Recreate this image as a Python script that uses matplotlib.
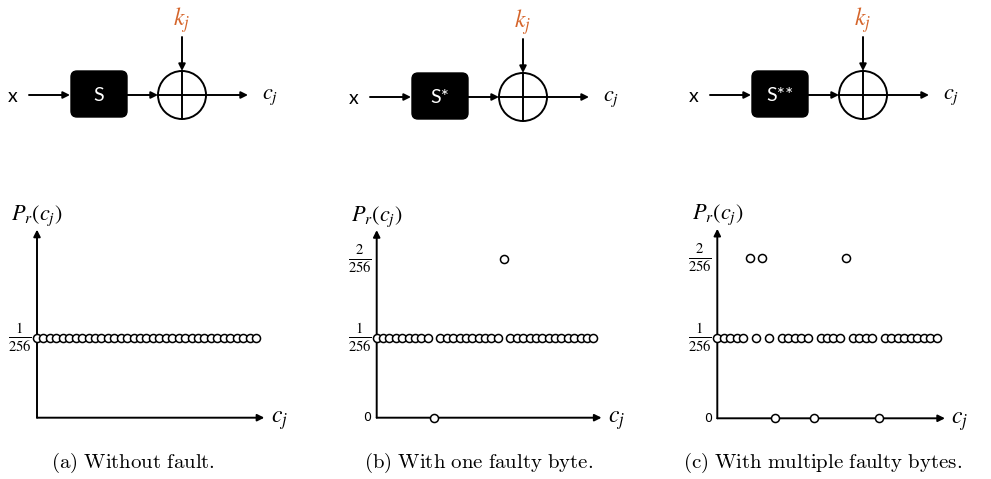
import matplotlib
matplotlib.use("Agg")
import matplotlib.pyplot as plt
from matplotlib.patches import FancyBboxPatch, Circle

plt.rcParams['mathtext.fontset'] = 'stix'

W, H = 991, 479

# position of each c_j value along the axis
positions = list(range(35))

# probabilities, in units of 1/256
vals_a = [1, 1, 1, 1, 1, 1, 1, 1, 1, 1, 1, 1, 1, 1, 1, 1, 1, 1,
          1, 1, 1, 1, 1, 1, 1, 1, 1, 1, 1, 1, 1, 1, 1, 1, 1]
vals_b = [1, 1, 1, 1, 1, 1, 1, 1, 1, 0, 1, 1, 1, 1, 1, 1, 1, 1,
          1, 1, 2, 1, 1, 1, 1, 1, 1, 1, 1, 1, 1, 1, 1, 1, 1]
vals_c = [1, 1, 1, 1, 1, 2, 1, 2, 1, 0, 1, 1, 1, 1, 1, 0, 1, 1,
          1, 1, 2, 1, 1, 1, 1, 0, 1, 1, 1, 1, 1, 1, 1, 1, 1]

ticks_a = [1]
ticks_bc = [0, 1, 2]
tick_labels = {0: "0", 1: r"$\frac{1}{256}$", 2: r"$\frac{2}{256}$"}

box_labels = ["S", "S*", "S**"]
captions = ["(a) Without fault.", "(b) With one faulty byte.",
            "(c) With multiple faulty bytes."]

fig = plt.figure(figsize=(W / 100, H / 100), dpi=100)

# overlay for the block diagrams, in pixel units
bg = fig.add_axes([0, 0, 1, 1])
bg.set_xlim(0, W)
bg.set_ylim(H, 0)
bg.axis("off")

orange = "#D5652B"
arrow = dict(arrowstyle="-|>", lw=1.4, color="black", mutation_scale=10,
             shrinkA=0, shrinkB=0)


def diagramme(dx, dy, label):
    yc = 95 + dy
    bg.text(13 + dx, yc + 1, "x", fontsize=14, family="Lato", ha="center", va="center")
    bg.annotate("", xy=(70 + dx, yc), xytext=(29 + dx, yc), arrowprops=arrow)
    bg.add_patch(FancyBboxPatch((71 + dx, 71 + dy), 56, 46,
                                boxstyle="round,pad=0,rounding_size=6",
                                fc="black", ec="black", lw=1))
    bg.text(99 + dx, yc, label, color="white", fontsize=14, family="Lato",
            ha="center", va="center")
    cx = 182 + dx
    r = 24
    bg.annotate("", xy=(cx - r, yc), xytext=(126 + dx, yc), arrowprops=arrow)
    bg.add_patch(Circle((cx, yc), r, fc="white", ec="black", lw=1.4))
    bg.plot([cx - r, cx + r], [yc, yc], color="black", lw=1.4)
    bg.plot([cx, cx], [yc - r, yc + r], color="black", lw=1.4)
    bg.annotate("", xy=(cx + 66, yc), xytext=(cx + r, yc), arrowprops=arrow)
    bg.annotate("", xy=(cx, yc - r), xytext=(cx, 37 + dy), arrowprops=arrow)
    bg.text(cx, 20 + dy, r"$k_j$", color=orange, fontsize=17, ha="center", va="center")
    bg.text(cx + 80, yc + 2, r"$c_j$", fontsize=16, ha="left", va="center")


diagramme(0, 0, box_labels[0])
diagramme(341, 2, box_labels[1])
diagramme(681, 0, box_labels[2])

xmin, xmax, ymin, ymax = -4, 41, -0.4, 2.8


def panneau(x0, y0, dx, dy, valeurs, ticks):
    left = (x0 + xmin * dx) / W
    width = (xmax - xmin) * dx / W
    bottom = (H - (y0 - ymin * dy)) / H
    height = (ymax - ymin) * dy / H
    ax = fig.add_axes([left, bottom, width, height])
    ax.set_xlim(xmin, xmax)
    ax.set_ylim(ymin, ymax)
    ax.axis("off")
    ax.annotate("", xy=(35.3, 0), xytext=(0, 0), arrowprops=arrow)
    ax.annotate("", xy=(0, 2.36), xytext=(0, 0), arrowprops=arrow)
    ax.plot(positions, valeurs, "o", ls="none", mfc="white", mec="black",
            ms=5.8, mew=1.1, clip_on=False, zorder=3)
    for t in ticks:
        ax.text(-0.8, t, tick_labels[t], fontsize=15 if t else 9,
                ha="right", va="center")
    ax.text(0, 2.53, r"$P_r(c_j)$", fontsize=16, ha="center", va="center")
    ax.text(36.3, -0.03, r"$c_j$", fontsize=17, ha="left", va="center")
    return ax


panneau(37, 417.7, 6.44, 79.7, vals_a, ticks_a)
panneau(376.7, 417.7, 6.37, 79.5, vals_b, ticks_bc)
panneau(717.3, 418.3, 6.45, 80.3, vals_c, ticks_bc)

for cx, txt in zip([133, 479, 823], captions):
    bg.text(cx, 463, r"$\mathrm{" + txt.replace(" ", r"\ ") + "}$",
            math_fontfamily="cm", fontsize=15, ha="center", va="center")

fig.savefig("out.png", dpi=100)
